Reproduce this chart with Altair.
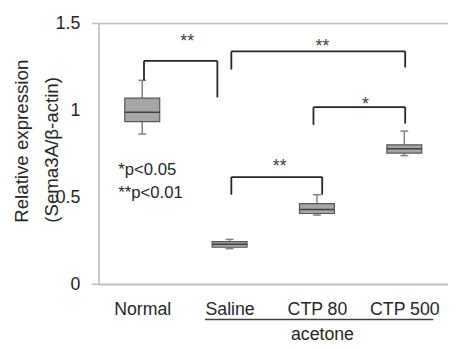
import altair as alt
import pandas as pd

# ---- data ----
groups = ["Normal", "Saline", "CTP 80", "CTP 500"]
whisker_low = [0.864, 0.205, 0.398, 0.740]
q1 = [0.935, 0.213, 0.407, 0.754]
median = [0.990, 0.230, 0.430, 0.779]
q3 = [1.071, 0.245, 0.464, 0.802]
whisker_high = [1.173, 0.258, 0.515, 0.881]

# significance brackets (x in category units, 0..4; y in data units)
br_label = ["**", "**", "*", "**"]
br_x1 = [0.52, 1.52, 2.46, 1.52]
br_x2 = [1.36, 3.51, 3.51, 2.56]
br_y = [1.285, 1.340, 1.019, 0.617]
br_leg1 = [1.173, 1.235, 0.917, 0.515]
br_leg2 = [1.075, 1.247, 0.924, 0.515]
star_x = [1.014, 2.563, 3.054, 2.073]
star_y = [1.362, 1.334, 1.003, 0.646]

legend_lines = ["*p<0.05", "**p<0.01"]
legend_x = [0.225, 0.225]
legend_y = [0.628, 0.498]

group_label = ["acetone"]
group_x = [2.563]
group_y = [-0.323]
group_line_x1 = [1.217]
group_line_x2 = [3.831]
group_line_y = [-0.202]

y_ticks = [0, 0.5, 1, 1.5]

FONT = "Liberation Sans"
W, H = 355, 265

box_df = pd.DataFrame({
    "group": groups,
    "idx": list(range(len(groups))),
    "lo": whisker_low, "q1": q1, "med": median, "q3": q3, "hi": whisker_high,
})
br_df = pd.DataFrame({"label": br_label, "x1": br_x1, "x2": br_x2, "y": br_y,
                      "l1": br_leg1, "l2": br_leg2, "sx": star_x, "sy": star_y})
leg_df = pd.DataFrame({"t": legend_lines, "x": legend_x, "y": legend_y})
grp_df = pd.DataFrame({"t": group_label, "x": group_x, "y": group_y,
                       "lx1": group_line_x1, "lx2": group_line_x2, "ly": group_line_y})
frame_df = pd.DataFrame({"y": [0, 1.5]})

label_expr = "datum.value < 1 ? 'Normal' : datum.value < 2 ? 'Saline' : datum.value < 3 ? 'CTP 80' : 'CTP 500'"

xscale = alt.Scale(domain=[0, 4], nice=False, zero=False)
yscale = alt.Scale(domain=[0, 1.5], nice=False)

x_axis = alt.Axis(values=[0.5, 1.5, 2.5, 3.5], labelExpr=label_expr, title=None,
                  grid=False, ticks=False, domainColor="#bfbfbf", domainWidth=1.5,
                  labelFont=FONT, labelFontSize=18, labelColor="#262626",
                  labelPadding=17, labelAngle=0)
y_axis = alt.Axis(values=y_ticks, format="~g", grid=False, ticks=False,
                  domainColor="#bfbfbf", domainWidth=1.5,
                  labelFont=FONT, labelFontSize=18, labelColor="#262626", labelPadding=19,
                  title=["Relative expression", "(Sema3A/β-actin)"],
                  titleFont=FONT, titleFontSize=19, titleFontWeight="normal",
                  titleColor="#262626", titleAngle=-90, titleAlign="left",
                  titleBaseline="alphabetic", titleX=-72, titleY=202, titleLineHeight=30)

base = alt.Chart(box_df).transform_calculate(
    pos="datum.idx + 0.5",
    bl="datum.idx + 0.3",
    br="datum.idx + 0.7",
    cl="datum.idx + 0.455",
    cr="datum.idx + 0.545",
)

frame = alt.Chart(frame_df).mark_rule(color="#bfbfbf", strokeWidth=1.5).encode(
    y=alt.Y("y:Q", scale=yscale, axis=y_axis),
    x=alt.value(-7), x2=alt.value(W),
)

whisk = base.mark_rule(color="#808080", strokeWidth=1.5).encode(
    x=alt.X("pos:Q", scale=xscale, axis=x_axis),
    y=alt.Y("lo:Q", scale=yscale), y2="hi:Q")
cap_hi = base.mark_rule(color="#808080", strokeWidth=1.5).encode(
    x=alt.X("cl:Q", scale=xscale), x2="cr:Q", y=alt.Y("hi:Q", scale=yscale))
cap_lo = base.mark_rule(color="#808080", strokeWidth=1.5).encode(
    x=alt.X("cl:Q", scale=xscale), x2="cr:Q", y=alt.Y("lo:Q", scale=yscale))
box = base.mark_rect(fill="#a6a6a6", stroke="#595959", strokeWidth=1.2).encode(
    x=alt.X("bl:Q", scale=xscale), x2="br:Q",
    y=alt.Y("q1:Q", scale=yscale), y2="q3:Q")
med = base.mark_rule(color="#404040", strokeWidth=1.5).encode(
    x=alt.X("bl:Q", scale=xscale), x2="br:Q", y=alt.Y("med:Q", scale=yscale))

bc = alt.Chart(br_df)
br_h = bc.mark_rule(color="#262626", strokeWidth=1.8).encode(
    x=alt.X("x1:Q", scale=xscale), x2="x2:Q", y=alt.Y("y:Q", scale=yscale))
br_l = bc.mark_rule(color="#262626", strokeWidth=1.8).encode(
    x=alt.X("x1:Q", scale=xscale), y=alt.Y("y:Q", scale=yscale), y2="l1:Q")
br_r = bc.mark_rule(color="#262626", strokeWidth=1.8).encode(
    x=alt.X("x2:Q", scale=xscale), y=alt.Y("y:Q", scale=yscale), y2="l2:Q")
stars = bc.mark_text(font=FONT, fontSize=18, color="#404040", align="center",
                     baseline="alphabetic").encode(
    x=alt.X("sx:Q", scale=xscale), y=alt.Y("sy:Q", scale=yscale), text="label:N")

legend = alt.Chart(leg_df).mark_text(font=FONT, fontSize=17, color="#262626",
                                     align="left", baseline="alphabetic").encode(
    x=alt.X("x:Q", scale=xscale), y=alt.Y("y:Q", scale=yscale), text="t:N")

gc = alt.Chart(grp_df)
g_line = gc.mark_rule(color="#404040", strokeWidth=1.5).encode(
    x=alt.X("lx1:Q", scale=xscale), x2="lx2:Q", y=alt.Y("ly:Q", scale=yscale))
g_text = gc.mark_text(font=FONT, fontSize=18, color="#262626", align="center",
                      baseline="alphabetic").encode(
    x=alt.X("x:Q", scale=xscale), y=alt.Y("y:Q", scale=yscale), text="t:N")

chart = alt.layer(
    frame, whisk, cap_hi, cap_lo, box, med, br_h, br_l, br_r, stars, legend, g_line, g_text
).properties(
    width=W, height=H,
    autosize=alt.AutoSizeParams(type="none"),
    padding={"left": 92, "top": 13, "right": 0, "bottom": 62},
).configure_view(stroke=None).configure(background="white")

chart.save("out.html", embed_options={"renderer": "svg", "actions": False})
